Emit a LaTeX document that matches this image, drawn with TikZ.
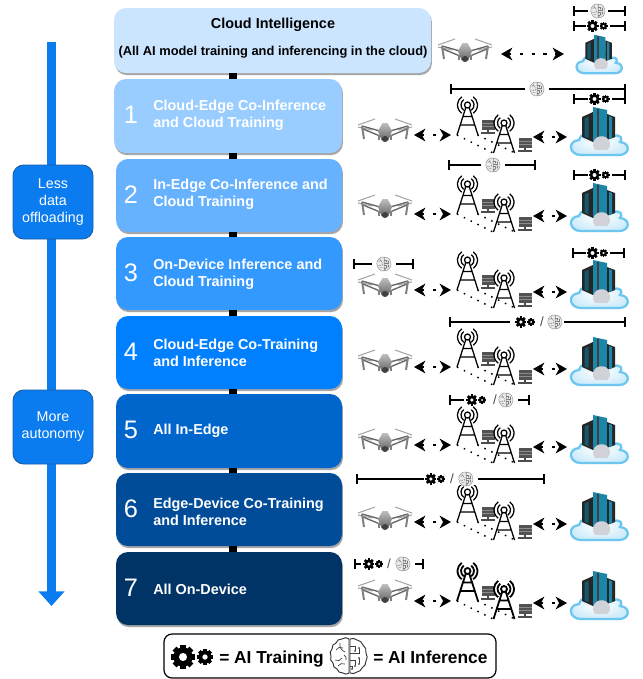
\documentclass[tikz,border=0pt]{standalone}
\usepackage{fontspec}
\setmainfont{Liberation Sans}
\usetikzlibrary{arrows.meta,shadows}
\definecolor{c0}{HTML}{CCE5FF}
\definecolor{c1}{HTML}{99CCFF}
\definecolor{c2}{HTML}{66B2FF}
\definecolor{c3}{HTML}{3399FF}
\definecolor{c4}{HTML}{0080FF}
\definecolor{c5}{HTML}{0066CC}
\definecolor{c6}{HTML}{004C99}
\definecolor{c7}{HTML}{003366}
\definecolor{leftblue}{HTML}{0A7CF0}
\definecolor{edgeblue}{HTML}{1A5FA8}
\definecolor{cloudline}{HTML}{6CC6F0}
\definecolor{tealA}{HTML}{1C86A8}
\definecolor{tealB}{HTML}{14586F}
\tikzset{
  levelbox/.style={rounded corners=9pt,minimum height=54.7pt,inner sep=0pt,
    general shadow={fill=black!35,shadow xshift=.7pt,shadow yshift=-1.6pt}},
  sidebox/.style={rounded corners=8pt,draw=edgeblue,line width=.7pt,fill=leftblue,text=white,
    minimum width=60pt,minimum height=55.5pt,align=center,inner sep=0pt,
    font=\fontsize{10.7}{12.8}\selectfont},
  numlabel/.style={text=white,font=\fontsize{19}{20}\selectfont,inner sep=0pt},
  rowlabel/.style={anchor=west,text=white,align=left,inner sep=0pt,
    font=\bfseries\fontsize{10.8}{12.8}\selectfont},
  link/.style={line width=6.5pt,black},
  shaft/.style={line width=7pt,leftblue,-{Triangle[width=19pt,length=11pt]}},
  bidi/.style={{Stealth[length=8.5pt,width=9.5pt,inset=2.6pt]}-{Stealth[length=8.5pt,width=9.5pt,inset=2.6pt]},
    line width=2.2pt,black,dash pattern=on 2.4pt off 6.4pt},
  dotline/.style={black,line width=1.1pt,dash pattern=on 1.1pt off 4.6pt},
  bracket/.style={{Bar[width=7.5pt,line width=1.4pt]}-{Bar[width=7.5pt,line width=1.4pt]},line width=1.4pt,black},
  gapnode/.style={fill=white,inner sep=0pt,minimum height=9pt},
  towerline/.style={black,line width=.95pt},
  brainstroke/.style={draw=black!45,fill=black!8,line width=.35pt},
  braindetail/.style={draw=black!50,line width=.3pt},
  gearpair/.pic={
    \begin{scope}[shift={(-11,0)}]
      \foreach \a in {0,45,...,315}{\fill[black,rotate=\a] (-2.8,-12) rectangle (2.8,-7);}
      \fill[black,even odd rule] (0,0) circle (9.6) (0,0) circle (4.2);
    \end{scope}
    \begin{scope}[shift={(11,0)}]
      \foreach \a in {0,45,...,315}{\fill[black,rotate=\a] (-1.9,-8) rectangle (1.9,-4.5);}
      \fill[black,even odd rule] (0,0) circle (6.5) (0,0) circle (2.8);
    \end{scope}
  },
  brainicon/.pic={
    \path[brainstroke] (0,-17) to[bend right=40] (-7,-17) to[bend right=40] (-13,-13)
      to[bend right=40] (-17,-7) to[bend right=40] (-18,0) to[bend right=40] (-16,7)
      to[bend right=40] (-12,13) to[bend right=40] (-6,17) to[bend right=40] (0,17) -- cycle;
    \path[brainstroke] (1,-17) to[bend left=30] (8,-16) to[bend left=30] (14,-11)
      to[bend left=30] (17,-3) to[bend left=30] (17,5) to[bend left=30] (13,12)
      to[bend left=30] (8,16) to[bend left=30] (1,17) -- cycle;
    \draw[braindetail] (-13,-6) to[bend left=50] (-6,-8) (-9,-13) to[bend right=40] (-4,-4)
      (-14,4) to[bend right=50] (-7,2) (-11,10) to[bend left=40] (-4,8) (-5,-1) to[bend left=40] (-3,4);
    \draw[braindetail] (1,-10) -- (6,-10) -- (6,-5) (1,-3) -- (10,-3) -- (10,-8)
      (1,4) -- (6,4) -- (6,10) (1,10) -- (3,10) -- (3,13) (10,2) -- (10,8);
    \foreach \p in {(6,-5),(10,-8),(6,10),(3,13),(10,8),(10,2)}{\fill[black!60] \p circle (1.2);}
  },
  drone/.pic={
    \coordinate (-r) at (29,0);
    \draw[black!35,line width=.8pt] (-27,-7) -- (-10,-13) (27,-7) -- (10,-13)
      (-27,-5) -- (-13,-2) (27,-5) -- (13,-2);
    \draw[black!60,line width=1pt] (-23,-6) -- (-5,-1) (23,-6) -- (5,-1)
      (-22,-3) -- (-5,4) (22,-3) -- (5,4);
    \draw[black!50,line width=1.5pt] (-23,-6) -- (-21,7) (23,-6) -- (21,7);
    \draw[black!50,line width=1pt] (-6,3) -- (-6,8) (6,3) -- (6,8);
    \shade[top color=black!25,bottom color=black!60] (-2.5,-9) -- (2.5,-9) -- (7,-1) -- (3.5,8) -- (-3.5,8) -- (-7,-1) -- cycle;
    \fill[black!75] (0,7) ellipse (3.2 and 3);
  },
  monitor/.pic={
    \fill[black!68] (-6.5,-7) rectangle (6.5,3);
    \draw[black!45,line width=.3pt] (-6.5,-4) -- (6.5,-4) (-6.5,-1) -- (6.5,-1);
    \draw[black!70,line width=.9pt] (0,3) -- (0,6) (-7,6) -- (7,6);
  },
  mast/.pic={
    \draw[towerline] (0,-30) circle (3) (-1.7,-27.5) -- (-10.5,0) (1.7,-27.5) -- (10.5,0)
      (-7.2,-10) -- (7.2,-10) (-4.5,-18.5) -- (4.5,-18.5);
    \foreach \r in {6.5,10}{
      \draw[towerline] ([shift={(125:\r)}]0,-30) arc[start angle=125,end angle=235,radius=\r];
      \draw[towerline] ([shift={(55:\r)}]0,-30) arc[start angle=55,end angle=-55,radius=\r];
    }
  },
  edgepair/.pic={
    \coordinate (-l) at (-16.5,0);
    \coordinate (-r) at (65.5,2);
    \coordinate (-f1) at (-10.5,0);
    \coordinate (-f2) at (25.5,18);
    \coordinate (-g1) at (10,0);
    \coordinate (-g2) at (47.5,18);
    \pic at (20.5,-8) {monitor};
    \pic at (57.5,10) {monitor};
    \pic at (36.5,18) {mast};
    \pic at (0,0) {mast};
    \draw[dotline] (-f1) -- (-f2) (-g1) -- (-g2);
  },
  servercloud/.pic={
    \coordinate (-l) at (-32,6);
    \path[draw=cloudline,line width=1.7pt,inner color=white,outer color=cloudline!35]
      (-18,24) .. controls (-30,24) and (-32,10) .. (-20,9)
      .. controls (-19,3) and (-11,1) .. (-7,5)
      .. controls (-2,-3) and (12,-3) .. (15,5)
      .. controls (22,3) and (24,8) .. (21,11)
      .. controls (32,12) and (31,24) .. (20,24) -- cycle;
    \fill[black!85] (-17,-14) -- (-6,-19) -- (-6,11) -- (-17,6) -- cycle;
    \fill[tealB] (-14.5,-12.5) -- (-10.5,-14.5) -- (-10.5,7) -- (-14.5,5.5) -- cycle;
    \fill[tealA] (-6,-24) -- (8,-21) -- (8,9) -- (-6,11) -- cycle;
    \fill[black!75] (-2,-22.5) -- (-.5,-22.5) -- (-.5,10) -- (-2,10) -- cycle;
    \fill[black!85] (8,-17) -- (16,-14) -- (16,6) -- (8,9) -- cycle;
    \fill[tealA] (10,-15) -- (13,-14) -- (13,7) -- (10,8) -- cycle;
    \fill[blue!15!black!18] (-6,15) .. controls (-7,3) and (9,2) .. (11,12) .. controls (11,16) and (10,18) .. (8,19) -- (-4,19) -- cycle;
  },
}
\newcommand{\levelrow}[7]{% name, x1, y1, y2, colour, number, label-y
  \node[levelbox,fill=#5,minimum width={(342-#2)*.75pt},minimum height={(#4-#3)*.75pt}]
     (b#1) at ({(342+#2)/2},{(#3+#4)/2}) {};
  \node[numlabel] (n#1) at (131,{(#3+#4)/2-1}) {#6};
  \node[rowlabel] (t#1) at (153,#7) {\csname rowtext#1\endcsname};
}
\newcommand{\brk}[6]{% name, x1, x2, y, gap centre, gap width
  \coordinate (#1a) at (#2,#4);
  \coordinate (#1b) at (#3,#4);
  \draw[bracket] (#1a) -- (#1b);
  \node[gapnode,minimum width={#6*.75pt}] (#1m) at (#5,#4) {};
}
\newcommand{\bothicons}[5]{% name, gear x, slash x, brain x, y
  \pic at (#2,#5) [scale=.47] {gearpair};
  \node[inner sep=0pt,font=\fontsize{10}{10}\selectfont,text=black!70] (#1s) at (#3,#5) {/};
  \pic at (#4,#5) [scale=.4] {brainicon};
}
\expandafter\def\csname rowtext1\endcsname{Cloud-Edge Co-Inference\\and Cloud Training}
\expandafter\def\csname rowtext2\endcsname{In-Edge Co-Inference and\\Cloud Training}
\expandafter\def\csname rowtext3\endcsname{On-Device Inference and\\Cloud Training}
\expandafter\def\csname rowtext4\endcsname{Cloud-Edge Co-Training\\and Inference}
\expandafter\def\csname rowtext5\endcsname{All In-Edge}
\expandafter\def\csname rowtext6\endcsname{Edge-Device Co-Training\\and Inference}
\expandafter\def\csname rowtext7\endcsname{All On-Device}
\begin{document}
\begin{tikzpicture}[x=.75pt,y=-.75pt]
\useasboundingbox (0,0) rectangle (643,679);
\fill[white] (0,0) rectangle (643,679);
% left arrow
\coordinate (atop) at (51.5,42);
\coordinate (atip) at (51.5,606);
\draw[shaft] (atop) -- (atip);
\node[sidebox] (less) at (53,202) {Less\\data\\offloading};
\node[sidebox] (more) at (53,427) {More\\autonomy};
% level boxes
\node[levelbox,fill=c0,minimum width={317*.75pt},minimum height={65*.75pt}] (b0) at (272.5,40.5) {};
\node[inner sep=0pt,font=\bfseries\fontsize{10.8}{13}\selectfont] (t0a) at (273,25) {Cloud Intelligence};
\node[inner sep=0pt,font=\bfseries\fontsize{9.65}{12}\selectfont] (t0b) at (273,52) {(All AI model training and inferencing in the cloud)};
\levelrow{1}{114}{79}{153}{c1}{1}{115}
\levelrow{2}{116}{159}{232}{c2}{2}{194}
\levelrow{3}{116}{237}{310}{c3}{3}{274}
\levelrow{4}{116}{316}{389}{c4}{4}{353}
\levelrow{5}{116}{394}{468}{c5}{5}{431}
\levelrow{6}{116}{473}{546}{c6}{6}{512}
\levelrow{7}{116}{552}{625}{c7}{7}{589}
% connectors between levels
\coordinate (cx) at (233,0);
\foreach \p/\q in {0/1,1/2,2/3,3/4,4/5,5/6,6/7}{
  \draw[link] (b\p.south -| cx) -- (b\q.north -| cx);
}
% top row icons
\pic (d0) at (465,52) {drone};
\pic (c0) at (599,54) [scale=.8] {servercloud};
\coordinate (e0a) at (501,54);
\coordinate (e0b) at (564,54);
\draw[bidi] (e0a) -- (e0b);
% level row icons
\foreach \i/\dd/\tt/\cc in {1/132/135/131,2/208/214/207,3/287/290/284,4/363/367/361,5/442/445/439,6/520/522/516}{
  \pic (d\i) at (385,\dd) {drone};
  \pic (s\i) at (467.5,\tt) {edgepair};
  \pic (c\i) at (599,\cc) {servercloud};
  \draw[bidi] (s\i-l -| d\i-r) -- (s\i-l);
  \draw[bidi] (s\i-r) -- (s\i-r -| c\i-l);
}
\pic (d7) at (385,593) {drone};
\pic (s7) at (467.5,601) [towerline/.style={black,line width=1.35pt}] {edgepair};
\pic (c7) at (599,595) {servercloud};
\draw[bidi] (s7-l -| d7-r) -- (s7-l);
\draw[bidi] (s7-r) -- (s7-r -| c7-l);
% brackets
\brk{p0}{573}{626}{11}{598}{20}
\pic at (598,11) [scale=.4] {brainicon};
\brk{g0}{573}{626}{26}{598}{24}
\pic at (598,26) [scale=.5] {gearpair};
\brk{p1}{450}{626}{89}{537}{24}
\pic at (537,89) [scale=.4] {brainicon};
\brk{g1}{573}{626}{99}{600}{24}
\pic at (600,99) [scale=.5] {gearpair};
\brk{p2}{448}{536}{165}{493}{24}
\pic at (493,165) [scale=.4] {brainicon};
\brk{g2}{573}{626}{175}{600}{24}
\pic at (600,175) [scale=.5] {gearpair};
\brk{p3}{353}{414}{264}{384}{24}
\pic at (384,264) [scale=.4] {brainicon};
\brk{g3}{572}{625}{253}{598}{24}
\pic at (598,253) [scale=.5] {gearpair};
\brk{b4a}{449}{626}{322}{537}{54}
\bothicons{x4}{526}{542}{555}{322}
\brk{b5a}{449}{530}{400}{491}{54}
\bothicons{x5}{477}{495}{506}{400}
\brk{b6a}{356}{545}{479}{451}{54}
\bothicons{x6}{436}{452}{466}{479}
\brk{b7a}{354}{424}{564}{388}{54}
\bothicons{x7}{374}{389}{403}{564}
% legend
\node[draw=black,line width=.9pt,rounded corners=6pt,minimum width={332*.75pt},minimum height={44*.75pt},inner sep=0pt] (legend) at (330,656) {};
\pic at (194,657) {gearpair};
\node[anchor=base west,inner sep=0pt,font=\bfseries\fontsize{13}{15}\selectfont] (lt) at (219,663) {= AI Training};
\pic at (349,656) [brainstroke/.style={draw=black!80,fill=white,line width=.7pt},braindetail/.style={draw=black!75,line width=.5pt}] {brainicon};
\node[anchor=base west,inner sep=0pt,font=\bfseries\fontsize{13}{15}\selectfont] (li) at (373,663) {= AI Inference};
\end{tikzpicture}
\end{document}
